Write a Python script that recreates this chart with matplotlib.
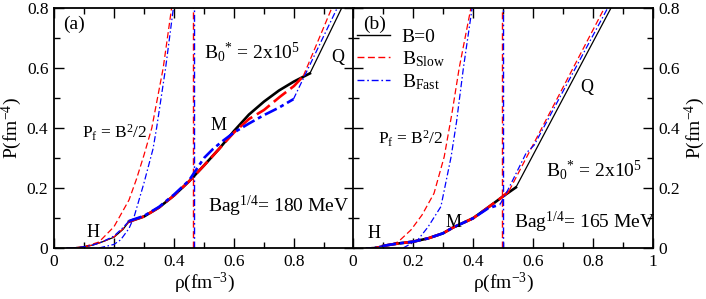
import matplotlib
matplotlib.use("Agg")
import matplotlib.pyplot as plt
import numpy as np
from matplotlib.ticker import MultipleLocator
from matplotlib.lines import Line2D

plt.rcParams['font.family'] = ['Liberation Serif', 'DejaVu Serif']
plt.rcParams['mathtext.fontset'] = 'custom'
plt.rcParams['mathtext.rm'] = 'Liberation Serif'
plt.rcParams['mathtext.it'] = 'Liberation Serif:italic'
plt.rcParams['mathtext.bf'] = 'Liberation Serif:bold'

# ---------------- data: panel (a) ----------------
a_b0_x = [0.043, 0.07, 0.1, 0.13, 0.16, 0.2, 0.23, 0.25, 0.3, 0.35, 0.4, 0.45, 0.5, 0.55, 0.6,
          0.65, 0.7, 0.75, 0.8, 0.853, 0.959]
a_b0_y = [0.0, 0.001, 0.004, 0.01, 0.02, 0.036, 0.062, 0.088, 0.105, 0.135, 0.175, 0.222, 0.275,
          0.33, 0.39, 0.445, 0.488, 0.525, 0.555, 0.582, 0.8]
a_b0_mixed = (0.25, 0.853)

a_slow_x = [0.043, 0.07, 0.1, 0.13, 0.16, 0.2, 0.23, 0.25, 0.3, 0.35, 0.4, 0.45, 0.5, 0.55, 0.6,
            0.65, 0.7, 0.753, 0.8, 0.831, 0.926]
a_slow_y = [0.0, 0.001, 0.004, 0.01, 0.02, 0.037, 0.064, 0.088, 0.105, 0.135, 0.175, 0.222, 0.275,
            0.33, 0.385, 0.43, 0.46, 0.504, 0.54, 0.573, 0.8]
a_slow_mixed = (0.25, 0.831)

a_fast_x = [0.043, 0.07, 0.1, 0.13, 0.16, 0.2, 0.23, 0.25, 0.3, 0.35, 0.4, 0.45, 0.47, 0.5, 0.53,
            0.56, 0.6, 0.65, 0.7, 0.75, 0.798, 0.944]
a_fast_y = [0.0, 0.001, 0.004, 0.01, 0.02, 0.04, 0.068, 0.09, 0.107, 0.137, 0.178, 0.225, 0.255,
            0.3, 0.33, 0.355, 0.385, 0.415, 0.443, 0.468, 0.496, 0.8]
a_fast_mixed = (0.25, 0.798)

a_pf_slow_x = [0.1, 0.15, 0.2, 0.25, 0.275, 0.3, 0.326, 0.345, 0.364, 0.392]
a_pf_slow_y = [0.004, 0.02, 0.071, 0.16, 0.23, 0.31, 0.4, 0.5, 0.6, 0.8]
a_pf_fast_x = [0.15, 0.2, 0.222, 0.25, 0.267, 0.3, 0.33, 0.342, 0.372, 0.398]
a_pf_fast_y = [0.0, 0.012, 0.027, 0.065, 0.104, 0.217, 0.33, 0.4, 0.6, 0.8]
a_vline_slow = 0.462
a_vline_fast = 0.468

# ---------------- data: panel (b) ----------------
b_b0_x = [0.044, 0.07, 0.1, 0.13, 0.15, 0.2, 0.25, 0.3, 0.333, 0.4, 0.45, 0.5, 0.543, 0.86]
b_b0_y = [0.0, 0.002, 0.007, 0.012, 0.015, 0.021, 0.032, 0.049, 0.068, 0.099, 0.135, 0.172, 0.202, 0.8]
b_b0_mixed = (0.1, 0.543)

b_slow_x = [0.044, 0.07, 0.1, 0.13, 0.15, 0.2, 0.25, 0.3, 0.333, 0.4, 0.45, 0.5, 0.52, 0.838]
b_slow_y = [0.0, 0.002, 0.007, 0.012, 0.015, 0.021, 0.032, 0.049, 0.068, 0.099, 0.135, 0.172, 0.19, 0.8]
b_slow_mixed = (0.1, 0.52)

b_fast_x = [0.044, 0.07, 0.1, 0.13, 0.15, 0.2, 0.25, 0.3, 0.333, 0.4, 0.45, 0.49, 0.516, 0.577, 0.604, 0.849]
b_fast_y = [0.0, 0.002, 0.007, 0.012, 0.015, 0.021, 0.032, 0.049, 0.068, 0.099, 0.132, 0.145, 0.193,
            0.316, 0.343, 0.8]
b_fast_mixed = (0.1, 0.49)

b_pf_slow_x = [0.1, 0.15, 0.193, 0.23, 0.27, 0.304, 0.33, 0.354, 0.393]
b_pf_slow_y = [0.004, 0.02, 0.06, 0.11, 0.182, 0.304, 0.45, 0.6, 0.8]
b_pf_fast_x = [0.167, 0.216, 0.25, 0.293, 0.327, 0.345, 0.368, 0.397]
b_pf_fast_y = [0.0, 0.027, 0.07, 0.138, 0.304, 0.42, 0.6, 0.8]
b_vline_slow = 0.497
b_vline_fast = 0.501

x_ticks_a = [0, 0.2, 0.4, 0.6, 0.8]
x_tick_labels_a = ['0', '0.2', '0.4', '0.6', '0.8']
x_ticks_b = [0, 0.2, 0.4, 0.6, 0.8, 1.0]
x_tick_labels_b = ['0', '0.2', '0.4', '0.6', '0.8', '1']
y_ticks = [0, 0.2, 0.4, 0.6, 0.8]
y_tick_labels = ['0', '0.2', '0.4', '0.6', '0.8']

# ---------------- styles ----------------
BLACK = '#000000'
RED = '#ff0000'
BLUE = '#0000ff'
thin_dash = (0, (5, 2.5))
thick_dash = (0, (6, 2))
thin_dd = (0, (5, 2, 1.2, 2))
thick_dd = (0, (5, 1.5, 1.5, 1.5))

fig = plt.figure(figsize=(7.06, 2.99), dpi=100)
ax1 = fig.add_axes([54 / 706, 51 / 299, 300 / 706, 240 / 299])
ax2 = fig.add_axes([353 / 706, 51 / 299, 300 / 706, 240 / 299])


def draw_series(ax, xs, ys, mixed, color, thin_ls, thick_ls):
    xs = np.asarray(xs)
    ys = np.asarray(ys)
    m0, m1 = mixed
    h = xs <= m0 + 1e-9
    m = (xs >= m0 - 1e-9) & (xs <= m1 + 1e-9)
    q = xs >= m1 - 1e-9
    ax.plot(xs[h], ys[h], color=color, lw=0.9, ls=thin_ls)
    ax.plot(xs[m], ys[m], color=color, lw=1.9, ls=thick_ls)
    ax.plot(xs[q], ys[q], color=color, lw=0.9, ls=thin_ls)


for ax, series, pfs, vl in [
    (ax1,
     [(a_b0_x, a_b0_y, a_b0_mixed, BLACK, '-', '-'),
      (a_slow_x, a_slow_y, a_slow_mixed, RED, thin_dash, thick_dash),
      (a_fast_x, a_fast_y, a_fast_mixed, BLUE, thin_dd, thick_dd)],
     [(a_pf_slow_x, a_pf_slow_y, RED, thin_dash), (a_pf_fast_x, a_pf_fast_y, BLUE, thin_dd)],
     [(a_vline_slow, RED, thin_dash), (a_vline_fast, BLUE, thin_dd)]),
    (ax2,
     [(b_b0_x, b_b0_y, b_b0_mixed, BLACK, '-', '-'),
      (b_slow_x, b_slow_y, b_slow_mixed, RED, thin_dash, thick_dash),
      (b_fast_x, b_fast_y, b_fast_mixed, BLUE, thin_dd, thick_dd)],
     [(b_pf_slow_x, b_pf_slow_y, RED, thin_dash), (b_pf_fast_x, b_pf_fast_y, BLUE, thin_dd)],
     [(b_vline_slow, RED, thin_dash), (b_vline_fast, BLUE, thin_dd)]),
]:
    for xv, c, ls in vl:
        ax.axvline(xv, color=c, lw=1.0, ls=ls)
    for xs, ys, c, ls in pfs:
        ax.plot(xs, ys, color=c, lw=0.9, ls=ls)
    for xs, ys, mixed, c, ls1, ls2 in series:
        draw_series(ax, xs, ys, mixed, c, ls1, ls2)

for ax in (ax1, ax2):
    ax.set_xlim(0, 1)
    ax.set_ylim(0, 0.8)
    ax.xaxis.set_minor_locator(MultipleLocator(0.1))
    ax.yaxis.set_minor_locator(MultipleLocator(0.1))
    ax.tick_params(which='both', direction='in', top=True, bottom=True, left=True, right=True,
                   width=1.0, labelsize=12.5, pad=4)
    ax.tick_params(which='major', length=7)
    ax.tick_params(which='minor', length=4.5)
    for s in ax.spines.values():
        s.set_linewidth(1.3)
    ax.set_xlabel(r'ρ(fm$^{-3}$)', fontsize=14, labelpad=1)

ax1.set_xticks(x_ticks_a)
ax1.set_xticklabels(x_tick_labels_a)
ax1.set_yticks(y_ticks)
ax1.set_yticklabels(y_tick_labels)
ax1.set_ylabel(r'P(fm$^{-4}$)', fontsize=14, labelpad=2)

ax2.set_xticks(x_ticks_b)
ax2.set_xticklabels(x_tick_labels_b)
ax2.set_yticks(y_ticks)
ax2.set_yticklabels(y_tick_labels)
ax2.tick_params(labelleft=False, labelright=True)
ax2.yaxis.set_label_position('right')
ax2.set_ylabel(r'P(fm$^{-4}$)', fontsize=14, labelpad=2)

# annotations panel (a)
fs = 14
ax1.text(0.03, 0.73, '(a)', fontsize=fs, va='baseline')
ax1.text(0.5, 0.633, r'B$_0$$^{*}$ = 2x10$^5$', fontsize=fs, va='baseline')
ax1.text(0.925, 0.62, 'Q', fontsize=13, va='baseline')
ax1.text(0.522, 0.393, 'M', fontsize=13, va='baseline')
ax1.text(0.093, 0.367, r'P$_{\rm f}$ = B$^2$/2', fontsize=12.5, va='baseline')
ax1.text(0.513, 0.12, r'Bag$^{1/4}$= 180 MeV', fontsize=fs, va='baseline')
ax1.text(0.11, 0.037, 'H', fontsize=13, va='baseline')

# annotations panel (b)
ax2.text(0.033, 0.73, '(b)', fontsize=fs, va='baseline')
ax2.text(0.757, 0.52, 'Q', fontsize=13, va='baseline')
ax2.text(0.083, 0.345, r'P$_{\rm f}$ = B$^2$/2', fontsize=12.5, va='baseline')
ax2.text(0.643, 0.24, r'B$_0$$^{*}$ = 2x10$^5$', fontsize=fs, va='baseline')
ax2.text(0.537, 0.067, r'Bag$^{1/4}$= 165 MeV', fontsize=fs, va='baseline')
ax2.text(0.31, 0.07, 'M', fontsize=13, va='baseline')
ax2.text(0.05, 0.033, 'H', fontsize=13, va='baseline')

handles = [Line2D([], [], color=BLACK, lw=1.0, ls='-'),
           Line2D([], [], color=RED, lw=1.0, ls=thin_dash),
           Line2D([], [], color=BLUE, lw=1.0, ls=thin_dd)]
labels = ['B=0', r'B$_{\rm Slow}$', r'B$_{\rm Fast}$']
ax2.legend(handles, labels, loc='upper left', bbox_to_anchor=(0.0, 0.93), frameon=False,
           fontsize=14, handlelength=1.7, handletextpad=0.6, labelspacing=0.15,
           borderaxespad=0.0, borderpad=0.2)

fig.savefig('out.png', dpi=100)
